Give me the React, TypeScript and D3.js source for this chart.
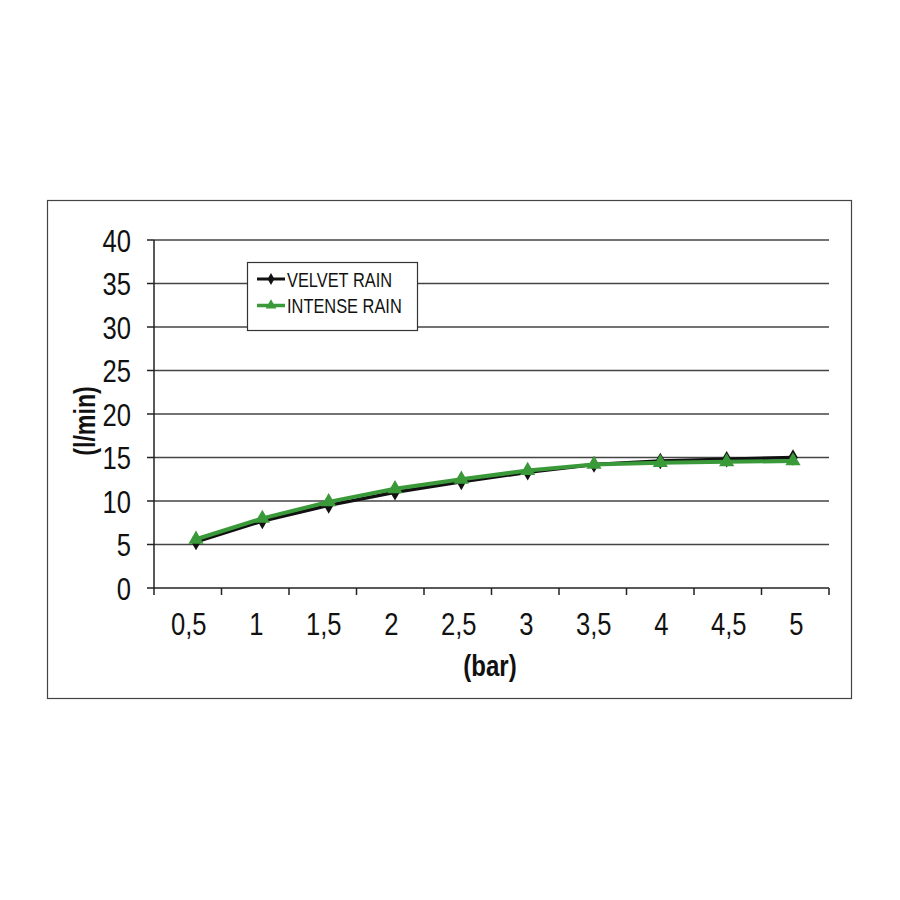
import React, { useEffect, useRef } from "react";
import * as d3 from "d3";

const categories = ["0,5", "1", "1,5", "2", "2,5", "3", "3,5", "4", "4,5", "5"];
const velvetRain = [5.3, 7.7, 9.5, 11.0, 12.2, 13.3, 14.2, 14.6, 14.8, 15.0];
const intenseRain = [5.6, 8.0, 9.9, 11.4, 12.5, 13.5, 14.2, 14.4, 14.5, 14.6];
const yTicks = [0, 5, 10, 15, 20, 25, 30, 35, 40];
const seriesNames = ["VELVET RAIN", "INTENSE RAIN"];

const FONT = "'Liberation Sans', Arial, sans-serif";
const SQ = 0.8;

export default function App() {
  const ref = useRef<SVGSVGElement | null>(null);

  useEffect(() => {
    const svg = d3.select(ref.current);
    svg.selectAll("*").remove();

    const left = 154, right = 829, top = 240, bottom = 588;
    const x = d3.scaleBand<string>().domain(categories).range([left, right]).padding(0);
    const xp = d3.scalePoint<string>().domain(categories).range([196, 793]);
    const y = d3.scaleLinear().domain([0, 40]).range([bottom, top]);

    const ctext = (g: any, tx: number, ty: number, str: string, size: number, anchor: string, bold = false, rot = 0) =>
      g.append("text")
        .attr("transform", `translate(${tx},${ty}) rotate(${rot}) scale(${SQ},1)`)
        .attr("text-anchor", anchor).attr("font-family", FONT).attr("font-size", size)
        .attr("font-weight", bold ? "bold" : "normal").attr("fill", "#111").text(str);

    // outer frame
    svg.append("rect").attr("x", 47.5).attr("y", 200.5).attr("width", 804).attr("height", 498)
      .attr("fill", "white").attr("stroke", "#444").attr("stroke-width", 1.2);

    // gridlines
    svg.append("g").selectAll("line").data(yTicks.filter(t => t > 0)).join("line")
      .attr("x1", left).attr("x2", right).attr("y1", d => y(d)).attr("y2", d => y(d))
      .attr("stroke", "#444").attr("stroke-width", 1.3);

    // y axis
    const yAxis = svg.append("g");
    yAxis.append("line").attr("x1", left).attr("x2", left).attr("y1", top).attr("y2", bottom)
      .attr("stroke", "#222").attr("stroke-width", 1.5);
    yAxis.selectAll("line.t").data(yTicks).join("line").attr("class", "t")
      .attr("x1", left - 7).attr("x2", left).attr("y1", d => y(d)).attr("y2", d => y(d))
      .attr("stroke", "#222").attr("stroke-width", 1.5);
    yTicks.forEach(t => ctext(yAxis, 131, y(t) + 11.5, String(t), 32, "end"));

    // x axis
    const xAxis = svg.append("g");
    xAxis.append("line").attr("x1", left).attr("x2", right).attr("y1", bottom).attr("y2", bottom)
      .attr("stroke", "#222").attr("stroke-width", 1.5);
    const tickPos = categories.map(c => x(c)!).concat([right]);
    xAxis.selectAll("line.t").data(tickPos).join("line").attr("class", "t")
      .attr("x1", d => d).attr("x2", d => d).attr("y1", bottom).attr("y2", bottom + 7)
      .attr("stroke", "#222").attr("stroke-width", 1.5);
    categories.forEach(c => ctext(xAxis, x(c)! + x.bandwidth() / 2 + 1, 635, c, 32, "middle"));

    // axis titles
    ctext(svg, 490, 676, "(bar)", 30, "middle", true);
    ctext(svg, 95, 421, "(l/min)", 29, "middle", true, -90);

    const line = d3.line<number>().x((_, i) => xp(categories[i])!).y(d => y(d));

    // velvet (black)
    svg.append("path").attr("d", line(velvetRain)).attr("fill", "none")
      .attr("stroke", "#111").attr("stroke-width", 3.5).attr("stroke-linejoin", "round");
    const diamond = d3.symbol().type(d3.symbolDiamond).size(80);
    svg.append("g").selectAll("path").data(velvetRain).join("path")
      .attr("transform", (d, i) => `translate(${xp(categories[i])},${y(d)})`)
      .attr("d", diamond()).attr("fill", "#111");

    // intense (green)
    svg.append("path").attr("d", line(intenseRain)).attr("fill", "none")
      .attr("stroke", "#3a9a3a").attr("stroke-width", 4).attr("stroke-linejoin", "round");
    const tri = d3.symbol().type(d3.symbolTriangle).size(100);
    svg.append("g").selectAll("path").data(intenseRain).join("path")
      .attr("transform", (d, i) => `translate(${xp(categories[i])},${y(d)})`)
      .attr("d", tri()).attr("fill", "#3a9a3a");

    // legend
    const lg = svg.append("g");
    lg.append("rect").attr("x", 247.5).attr("y", 262.5).attr("width", 170).attr("height", 68)
      .attr("fill", "white").attr("stroke", "#333").attr("stroke-width", 1.2);
    const colors = ["#111", "#3a9a3a"];
    seriesNames.forEach((name, i) => {
      const yy = 279 + i * 26.5;
      lg.append("line").attr("x1", 257).attr("x2", 285).attr("y1", yy).attr("y2", yy)
        .attr("stroke", colors[i]).attr("stroke-width", i === 0 ? 3 : 3.5);
      lg.append("path").attr("transform", `translate(271,${yy})`)
        .attr("d", (i === 0 ? d3.symbol().type(d3.symbolDiamond).size(40) : d3.symbol().type(d3.symbolTriangle).size(50))())
        .attr("fill", colors[i]);
      ctext(lg, 287, yy + 7.5, name, 20.5, "start");
    });
  }, []);

  return (
    <svg ref={ref} width={900} height={900}
      style={{ position: "absolute", left: 0, top: 0, background: "white" }} />
  );
}
